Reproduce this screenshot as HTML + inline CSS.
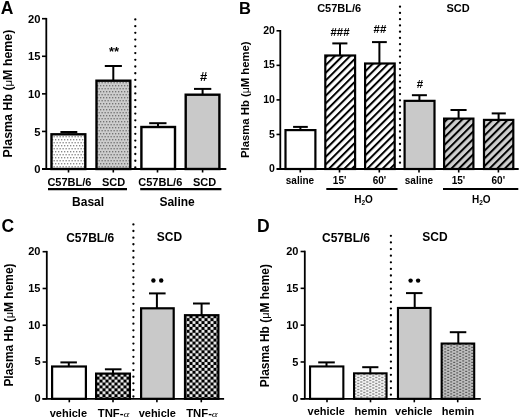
<!DOCTYPE html>
<html><head><meta charset="utf-8"><style>
html,body{margin:0;padding:0;background:#fff;}
svg{display:block;will-change:transform;}
text{font-family:"Liberation Sans", sans-serif;fill:#000;}
</style></head><body>
<svg width="520" height="419" viewBox="0 0 520 419">
<rect width="520" height="419" fill="#fff"/>

<defs>
 <pattern id="dotL" width="3" height="6" patternUnits="userSpaceOnUse">
  <rect width="3" height="6" fill="#fff"/>
  <rect x="1" y="1" width="1.3" height="1.4" fill="#8a8a8a"/>
  <rect x="2.5" y="4" width="1.3" height="1.4" fill="#8a8a8a"/>
  <rect x="-0.5" y="4" width="1.3" height="1.4" fill="#8a8a8a"/>
 </pattern>
 <pattern id="dotG" width="3" height="6" patternUnits="userSpaceOnUse">
  <rect width="3" height="6" fill="#cdcdcd"/>
  <rect x="1" y="1" width="1.3" height="1.4" fill="#747474"/>
  <rect x="2.5" y="4" width="1.3" height="1.4" fill="#747474"/>
  <rect x="-0.5" y="4" width="1.3" height="1.4" fill="#747474"/>
 </pattern>
 <pattern id="hatchW" width="5.4" height="5.4" patternUnits="userSpaceOnUse" patternTransform="rotate(45)">
  <rect width="5.4" height="5.4" fill="#fff"/>
  <rect x="0" y="0" width="2.0" height="5.4" fill="#000"/>
 </pattern>
 <pattern id="hatchG" width="5.4" height="5.4" patternUnits="userSpaceOnUse" patternTransform="rotate(45)">
  <rect width="5.4" height="5.4" fill="#cfcfcf"/>
  <rect x="0" y="0" width="2.0" height="5.4" fill="#000"/>
 </pattern>
 <pattern id="check" x="-2.5" y="-0.65" width="6" height="5.85" patternUnits="userSpaceOnUse">
  <rect width="6" height="5.85" fill="#000"/>
  <rect x="3.1" y="0.1" width="2.8" height="2.7" fill="#fff"/>
  <rect x="0.1" y="3.025" width="2.8" height="2.7" fill="#fff"/>
 </pattern>
 <pattern id="heminL" width="6" height="3" patternUnits="userSpaceOnUse">
  <rect width="6" height="3" fill="#f8f8f8"/>
  <rect x="0.2" y="0.3" width="2.2" height="1.4" fill="#8c8c8c"/>
  <rect x="3.2" y="1.8" width="2.2" height="1.4" fill="#8c8c8c"/>
  <rect x="3.2" y="-1.2" width="2.2" height="1.4" fill="#8c8c8c"/>
 </pattern>
 <pattern id="heminD" width="6" height="3" patternUnits="userSpaceOnUse">
  <rect width="6" height="3" fill="#bdbdbd"/>
  <rect x="0.2" y="0.3" width="2.0" height="1.2" fill="#5c5c5c"/>
  <rect x="3.2" y="1.8" width="2.0" height="1.2" fill="#5c5c5c"/>
  <rect x="3.2" y="-1.2" width="2.0" height="1.2" fill="#5c5c5c"/>
 </pattern>
</defs>
<text x="0.80" y="14.30" font-size="17.5" text-anchor="start" font-weight="bold" >A</text>
<text transform="translate(11.60,93.50) rotate(-90)" x="0" y="0" font-size="12.4" text-anchor="middle" font-weight="bold">Plasma Hb (<tspan font-weight="normal" font-size="11.41">μ</tspan>M heme)</text>
<line x1="46.30" y1="17.90" x2="46.30" y2="169.00" stroke="#000" stroke-width="1.8"/>
<line x1="42.00" y1="169.00" x2="46.30" y2="169.00" stroke="#000" stroke-width="1.6"/>
<text x="40.50" y="173.11" font-size="11.2" text-anchor="end" font-weight="bold" >0</text>
<line x1="42.00" y1="131.43" x2="46.30" y2="131.43" stroke="#000" stroke-width="1.6"/>
<text x="40.50" y="135.53" font-size="11.2" text-anchor="end" font-weight="bold" >5</text>
<line x1="42.00" y1="93.85" x2="46.30" y2="93.85" stroke="#000" stroke-width="1.6"/>
<text x="40.50" y="97.96" font-size="11.2" text-anchor="end" font-weight="bold" >10</text>
<line x1="42.00" y1="56.28" x2="46.30" y2="56.28" stroke="#000" stroke-width="1.6"/>
<text x="40.50" y="60.38" font-size="11.2" text-anchor="end" font-weight="bold" >15</text>
<line x1="42.00" y1="18.70" x2="46.30" y2="18.70" stroke="#000" stroke-width="1.6"/>
<text x="40.50" y="22.81" font-size="11.2" text-anchor="end" font-weight="bold" >20</text>
<rect x="51.50" y="134.30" width="33.80" height="34.70" fill="url(#dotL)" stroke="#000" stroke-width="2.4"/>
<rect x="96.50" y="80.70" width="33.80" height="88.30" fill="url(#dotG)" stroke="#000" stroke-width="2.4"/>
<rect x="141.40" y="127.00" width="33.60" height="42.00" fill="#fff" stroke="#000" stroke-width="2.4"/>
<rect x="185.70" y="94.70" width="33.70" height="74.30" fill="#c9c9c9" stroke="#000" stroke-width="2.4"/>
<line x1="68.60" y1="132.00" x2="68.60" y2="133.50" stroke="#000" stroke-width="2.0"/>
<line x1="60.40" y1="132.00" x2="77.30" y2="132.00" stroke="#000" stroke-width="2.0"/>
<line x1="113.30" y1="66.00" x2="113.30" y2="80.50" stroke="#000" stroke-width="2.0"/>
<line x1="104.80" y1="66.00" x2="121.90" y2="66.00" stroke="#000" stroke-width="2.0"/>
<line x1="158.00" y1="123.20" x2="158.00" y2="126.50" stroke="#000" stroke-width="2.0"/>
<line x1="149.20" y1="123.20" x2="166.50" y2="123.20" stroke="#000" stroke-width="2.0"/>
<line x1="202.60" y1="88.90" x2="202.60" y2="94.50" stroke="#000" stroke-width="2.0"/>
<line x1="194.00" y1="88.90" x2="211.30" y2="88.90" stroke="#000" stroke-width="2.0"/>
<circle cx="135.30" cy="19.40" r="1.15" fill="#000"/>
<circle cx="135.30" cy="26.13" r="1.15" fill="#000"/>
<circle cx="135.30" cy="32.86" r="1.15" fill="#000"/>
<circle cx="135.30" cy="39.59" r="1.15" fill="#000"/>
<circle cx="135.30" cy="46.32" r="1.15" fill="#000"/>
<circle cx="135.30" cy="53.05" r="1.15" fill="#000"/>
<circle cx="135.30" cy="59.78" r="1.15" fill="#000"/>
<circle cx="135.30" cy="66.51" r="1.15" fill="#000"/>
<circle cx="135.30" cy="73.24" r="1.15" fill="#000"/>
<circle cx="135.30" cy="79.97" r="1.15" fill="#000"/>
<circle cx="135.30" cy="86.70" r="1.15" fill="#000"/>
<circle cx="135.30" cy="93.43" r="1.15" fill="#000"/>
<circle cx="135.30" cy="100.16" r="1.15" fill="#000"/>
<circle cx="135.30" cy="106.89" r="1.15" fill="#000"/>
<circle cx="135.30" cy="113.62" r="1.15" fill="#000"/>
<circle cx="135.30" cy="120.35" r="1.15" fill="#000"/>
<circle cx="135.30" cy="127.08" r="1.15" fill="#000"/>
<circle cx="135.30" cy="133.81" r="1.15" fill="#000"/>
<circle cx="135.30" cy="140.54" r="1.15" fill="#000"/>
<circle cx="135.30" cy="147.27" r="1.15" fill="#000"/>
<circle cx="135.30" cy="154.00" r="1.15" fill="#000"/>
<circle cx="135.30" cy="160.73" r="1.15" fill="#000"/>
<circle cx="135.30" cy="167.46" r="1.15" fill="#000"/>
<line x1="42.00" y1="169.00" x2="226.30" y2="169.00" stroke="#000" stroke-width="2.0"/>
<line x1="68.50" y1="169.00" x2="68.50" y2="172.50" stroke="#000" stroke-width="1.6"/>
<line x1="113.30" y1="169.00" x2="113.30" y2="172.50" stroke="#000" stroke-width="1.6"/>
<line x1="157.50" y1="169.00" x2="157.50" y2="172.50" stroke="#000" stroke-width="1.6"/>
<line x1="202.60" y1="169.00" x2="202.60" y2="172.50" stroke="#000" stroke-width="1.6"/>
<text x="69.40" y="186.00" font-size="11" text-anchor="middle" font-weight="bold" >C57BL/6</text>
<text x="113.50" y="186.00" font-size="11" text-anchor="middle" font-weight="bold" >SCD</text>
<text x="160.30" y="186.00" font-size="11" text-anchor="middle" font-weight="bold" >C57BL/6</text>
<text x="204.60" y="186.00" font-size="11" text-anchor="middle" font-weight="bold" >SCD</text>
<line x1="48.00" y1="189.20" x2="127.00" y2="189.20" stroke="#000" stroke-width="2.2"/>
<line x1="140.20" y1="189.20" x2="221.40" y2="189.20" stroke="#000" stroke-width="2.2"/>
<text x="88.10" y="206.00" font-size="12" text-anchor="middle" font-weight="bold" >Basal</text>
<text x="177.10" y="206.00" font-size="12" text-anchor="middle" font-weight="bold" >Saline</text>
<text x="114.00" y="56.10" font-size="13" text-anchor="middle" font-weight="bold" >**</text>
<text x="203.50" y="80.90" font-size="13" text-anchor="middle" font-weight="bold" >#</text>
<text x="239.00" y="13.80" font-size="16.5" text-anchor="start" font-weight="bold" >B</text>
<text transform="translate(248.60,99.70) rotate(-90)" x="0" y="0" font-size="11.3" text-anchor="middle" font-weight="bold">Plasma Hb (<tspan font-weight="normal" font-size="10.40">μ</tspan>M heme)</text>
<line x1="280.30" y1="30.00" x2="280.30" y2="169.00" stroke="#000" stroke-width="1.8"/>
<line x1="276.50" y1="169.00" x2="280.30" y2="169.00" stroke="#000" stroke-width="1.6"/>
<text x="274.90" y="172.06" font-size="10.5" text-anchor="end" font-weight="bold" >0</text>
<line x1="276.50" y1="134.45" x2="280.30" y2="134.45" stroke="#000" stroke-width="1.6"/>
<text x="274.90" y="137.51" font-size="10.5" text-anchor="end" font-weight="bold" >5</text>
<line x1="276.50" y1="99.90" x2="280.30" y2="99.90" stroke="#000" stroke-width="1.6"/>
<text x="274.90" y="102.96" font-size="10.5" text-anchor="end" font-weight="bold" >10</text>
<line x1="276.50" y1="65.35" x2="280.30" y2="65.35" stroke="#000" stroke-width="1.6"/>
<text x="274.90" y="68.41" font-size="10.5" text-anchor="end" font-weight="bold" >15</text>
<line x1="276.50" y1="30.80" x2="280.30" y2="30.80" stroke="#000" stroke-width="1.6"/>
<text x="274.90" y="33.86" font-size="10.5" text-anchor="end" font-weight="bold" >20</text>
<rect x="285.50" y="130.10" width="29.90" height="38.90" fill="#fff" stroke="#000" stroke-width="2.2"/>
<rect x="325.30" y="55.50" width="29.80" height="113.50" fill="url(#hatchW)" stroke="#000" stroke-width="2.2"/>
<rect x="365.10" y="63.50" width="29.60" height="105.50" fill="url(#hatchW)" stroke="#000" stroke-width="2.2"/>
<rect x="404.60" y="100.85" width="29.90" height="68.15" fill="#c9c9c9" stroke="#000" stroke-width="2.2"/>
<rect x="444.10" y="118.60" width="29.30" height="50.40" fill="url(#hatchG)" stroke="#000" stroke-width="2.2"/>
<rect x="484.00" y="119.90" width="29.30" height="49.10" fill="url(#hatchG)" stroke="#000" stroke-width="2.2"/>
<line x1="300.40" y1="126.90" x2="300.40" y2="130.00" stroke="#000" stroke-width="2.0"/>
<line x1="293.10" y1="126.90" x2="307.80" y2="126.90" stroke="#000" stroke-width="2.0"/>
<line x1="340.00" y1="43.40" x2="340.00" y2="55.50" stroke="#000" stroke-width="2.0"/>
<line x1="332.30" y1="43.40" x2="347.40" y2="43.40" stroke="#000" stroke-width="2.0"/>
<line x1="379.40" y1="42.10" x2="379.40" y2="63.50" stroke="#000" stroke-width="2.0"/>
<line x1="372.00" y1="42.10" x2="386.80" y2="42.10" stroke="#000" stroke-width="2.0"/>
<line x1="419.40" y1="95.20" x2="419.40" y2="100.50" stroke="#000" stroke-width="2.0"/>
<line x1="411.90" y1="95.20" x2="426.90" y2="95.20" stroke="#000" stroke-width="2.0"/>
<line x1="458.60" y1="110.00" x2="458.60" y2="118.50" stroke="#000" stroke-width="2.0"/>
<line x1="450.50" y1="110.00" x2="466.60" y2="110.00" stroke="#000" stroke-width="2.0"/>
<line x1="498.60" y1="113.40" x2="498.60" y2="119.50" stroke="#000" stroke-width="2.0"/>
<line x1="491.70" y1="113.40" x2="505.80" y2="113.40" stroke="#000" stroke-width="2.0"/>
<circle cx="400.00" cy="6.70" r="1.15" fill="#000"/>
<circle cx="400.00" cy="12.94" r="1.15" fill="#000"/>
<circle cx="400.00" cy="19.18" r="1.15" fill="#000"/>
<circle cx="400.00" cy="25.42" r="1.15" fill="#000"/>
<circle cx="400.00" cy="31.66" r="1.15" fill="#000"/>
<circle cx="400.00" cy="37.90" r="1.15" fill="#000"/>
<circle cx="400.00" cy="44.14" r="1.15" fill="#000"/>
<circle cx="400.00" cy="50.38" r="1.15" fill="#000"/>
<circle cx="400.00" cy="56.62" r="1.15" fill="#000"/>
<circle cx="400.00" cy="62.86" r="1.15" fill="#000"/>
<circle cx="400.00" cy="69.10" r="1.15" fill="#000"/>
<circle cx="400.00" cy="75.34" r="1.15" fill="#000"/>
<circle cx="400.00" cy="81.58" r="1.15" fill="#000"/>
<circle cx="400.00" cy="87.82" r="1.15" fill="#000"/>
<circle cx="400.00" cy="94.06" r="1.15" fill="#000"/>
<circle cx="400.00" cy="100.30" r="1.15" fill="#000"/>
<circle cx="400.00" cy="106.54" r="1.15" fill="#000"/>
<circle cx="400.00" cy="112.78" r="1.15" fill="#000"/>
<circle cx="400.00" cy="119.02" r="1.15" fill="#000"/>
<circle cx="400.00" cy="125.26" r="1.15" fill="#000"/>
<circle cx="400.00" cy="131.50" r="1.15" fill="#000"/>
<circle cx="400.00" cy="137.74" r="1.15" fill="#000"/>
<circle cx="400.00" cy="143.98" r="1.15" fill="#000"/>
<circle cx="400.00" cy="150.22" r="1.15" fill="#000"/>
<circle cx="400.00" cy="156.46" r="1.15" fill="#000"/>
<circle cx="400.00" cy="162.70" r="1.15" fill="#000"/>
<line x1="276.80" y1="169.00" x2="518.70" y2="169.00" stroke="#000" stroke-width="2.0"/>
<line x1="300.30" y1="169.00" x2="300.30" y2="172.50" stroke="#000" stroke-width="1.6"/>
<line x1="339.50" y1="169.00" x2="339.50" y2="172.50" stroke="#000" stroke-width="1.6"/>
<line x1="379.30" y1="169.00" x2="379.30" y2="172.50" stroke="#000" stroke-width="1.6"/>
<line x1="419.00" y1="169.00" x2="419.00" y2="172.50" stroke="#000" stroke-width="1.6"/>
<line x1="458.70" y1="169.00" x2="458.70" y2="172.50" stroke="#000" stroke-width="1.6"/>
<line x1="498.40" y1="169.00" x2="498.40" y2="172.50" stroke="#000" stroke-width="1.6"/>
<text x="339.20" y="12.10" font-size="11" text-anchor="middle" font-weight="bold" >C57BL/6</text>
<text x="458.10" y="12.10" font-size="11" text-anchor="middle" font-weight="bold" >SCD</text>
<text x="300.00" y="183.70" font-size="10" text-anchor="middle" font-weight="bold" >saline</text>
<text x="339.60" y="183.70" font-size="10" text-anchor="middle" font-weight="bold" >15'</text>
<text x="379.40" y="183.70" font-size="10" text-anchor="middle" font-weight="bold" >60'</text>
<text x="419.00" y="183.70" font-size="10" text-anchor="middle" font-weight="bold" >saline</text>
<text x="458.50" y="183.70" font-size="10" text-anchor="middle" font-weight="bold" >15'</text>
<text x="498.30" y="183.70" font-size="10" text-anchor="middle" font-weight="bold" >60'</text>
<line x1="326.30" y1="189.00" x2="397.50" y2="189.00" stroke="#000" stroke-width="2.2"/>
<line x1="443.00" y1="189.00" x2="518.30" y2="189.00" stroke="#000" stroke-width="2.2"/>
<text x="363.50" y="202.5" font-size="10" text-anchor="middle" font-weight="bold">H<tspan font-size="6.5" dy="2.2">2</tspan><tspan dy="-2.2">O</tspan></text>
<text x="481.30" y="202.5" font-size="10" text-anchor="middle" font-weight="bold">H<tspan font-size="6.5" dy="2.2">2</tspan><tspan dy="-2.2">O</tspan></text>
<text x="340.00" y="36.10" font-size="11.5" text-anchor="middle" font-weight="bold" >###</text>
<text x="379.90" y="33.20" font-size="11.5" text-anchor="middle" font-weight="bold" >##</text>
<text x="420.00" y="87.50" font-size="11.5" text-anchor="middle" font-weight="bold" >#</text>
<text x="1.50" y="231.80" font-size="17.5" text-anchor="start" font-weight="bold" >C</text>
<text transform="translate(12.50,325.05) rotate(-90)" x="0" y="0" font-size="11.95" text-anchor="middle" font-weight="bold">Plasma Hb (<tspan font-weight="normal" font-size="10.99">μ</tspan>M heme)</text>
<line x1="46.80" y1="250.90" x2="46.80" y2="398.80" stroke="#000" stroke-width="1.8"/>
<line x1="42.60" y1="398.80" x2="46.80" y2="398.80" stroke="#000" stroke-width="1.6"/>
<text x="40.50" y="402.14" font-size="11.0" text-anchor="end" font-weight="bold" >0</text>
<line x1="42.60" y1="362.02" x2="46.80" y2="362.02" stroke="#000" stroke-width="1.6"/>
<text x="40.50" y="365.36" font-size="11.0" text-anchor="end" font-weight="bold" >5</text>
<line x1="42.60" y1="325.25" x2="46.80" y2="325.25" stroke="#000" stroke-width="1.6"/>
<text x="40.50" y="328.59" font-size="11.0" text-anchor="end" font-weight="bold" >10</text>
<line x1="42.60" y1="288.48" x2="46.80" y2="288.48" stroke="#000" stroke-width="1.6"/>
<text x="40.50" y="291.81" font-size="11.0" text-anchor="end" font-weight="bold" >15</text>
<line x1="42.60" y1="251.70" x2="46.80" y2="251.70" stroke="#000" stroke-width="1.6"/>
<text x="40.50" y="255.04" font-size="11.0" text-anchor="end" font-weight="bold" >20</text>
<rect x="52.10" y="366.50" width="33.80" height="32.30" fill="#fff" stroke="#000" stroke-width="2.2"/>
<rect x="96.10" y="373.60" width="33.80" height="25.20" fill="url(#check)" stroke="#000" stroke-width="2.2"/>
<rect x="141.10" y="308.30" width="32.60" height="90.50" fill="#c9c9c9" stroke="#000" stroke-width="2.2"/>
<rect x="185.00" y="315.20" width="33.40" height="83.60" fill="url(#check)" stroke="#000" stroke-width="2.2"/>
<line x1="68.80" y1="362.40" x2="68.80" y2="366.00" stroke="#000" stroke-width="2.0"/>
<line x1="60.40" y1="362.40" x2="76.90" y2="362.40" stroke="#000" stroke-width="2.0"/>
<line x1="113.00" y1="369.30" x2="113.00" y2="373.00" stroke="#000" stroke-width="2.0"/>
<line x1="104.90" y1="369.30" x2="121.50" y2="369.30" stroke="#000" stroke-width="2.0"/>
<line x1="156.90" y1="293.40" x2="156.90" y2="308.00" stroke="#000" stroke-width="2.0"/>
<line x1="149.00" y1="293.40" x2="165.60" y2="293.40" stroke="#000" stroke-width="2.0"/>
<line x1="201.60" y1="303.50" x2="201.60" y2="315.00" stroke="#000" stroke-width="2.0"/>
<line x1="193.00" y1="303.50" x2="209.80" y2="303.50" stroke="#000" stroke-width="2.0"/>
<circle cx="133.40" cy="224.40" r="1.15" fill="#000"/>
<circle cx="133.40" cy="231.02" r="1.15" fill="#000"/>
<circle cx="133.40" cy="237.64" r="1.15" fill="#000"/>
<circle cx="133.40" cy="244.26" r="1.15" fill="#000"/>
<circle cx="133.40" cy="250.88" r="1.15" fill="#000"/>
<circle cx="133.40" cy="257.50" r="1.15" fill="#000"/>
<circle cx="133.40" cy="264.12" r="1.15" fill="#000"/>
<circle cx="133.40" cy="270.74" r="1.15" fill="#000"/>
<circle cx="133.40" cy="277.36" r="1.15" fill="#000"/>
<circle cx="133.40" cy="283.98" r="1.15" fill="#000"/>
<circle cx="133.40" cy="290.60" r="1.15" fill="#000"/>
<circle cx="133.40" cy="297.22" r="1.15" fill="#000"/>
<circle cx="133.40" cy="303.84" r="1.15" fill="#000"/>
<circle cx="133.40" cy="310.46" r="1.15" fill="#000"/>
<circle cx="133.40" cy="317.08" r="1.15" fill="#000"/>
<circle cx="133.40" cy="323.70" r="1.15" fill="#000"/>
<circle cx="133.40" cy="330.32" r="1.15" fill="#000"/>
<circle cx="133.40" cy="336.94" r="1.15" fill="#000"/>
<circle cx="133.40" cy="343.56" r="1.15" fill="#000"/>
<circle cx="133.40" cy="350.18" r="1.15" fill="#000"/>
<circle cx="133.40" cy="356.80" r="1.15" fill="#000"/>
<circle cx="133.40" cy="363.42" r="1.15" fill="#000"/>
<circle cx="133.40" cy="370.04" r="1.15" fill="#000"/>
<circle cx="133.40" cy="376.66" r="1.15" fill="#000"/>
<circle cx="133.40" cy="383.28" r="1.15" fill="#000"/>
<circle cx="133.40" cy="389.90" r="1.15" fill="#000"/>
<circle cx="133.40" cy="396.52" r="1.15" fill="#000"/>
<line x1="42.40" y1="398.80" x2="224.10" y2="398.80" stroke="#000" stroke-width="1.8"/>
<line x1="69.30" y1="398.80" x2="69.30" y2="402.30" stroke="#000" stroke-width="1.6"/>
<line x1="113.00" y1="398.80" x2="113.00" y2="402.30" stroke="#000" stroke-width="1.6"/>
<line x1="156.90" y1="398.80" x2="156.90" y2="402.30" stroke="#000" stroke-width="1.6"/>
<line x1="201.30" y1="398.80" x2="201.30" y2="402.30" stroke="#000" stroke-width="1.6"/>
<text x="68.40" y="416.90" font-size="11" text-anchor="middle" font-weight="bold" >vehicle</text>
<text x="97.80" y="416.9" font-size="11.3" text-anchor="start" font-weight="bold">TNF-</text>
<text transform="translate(123.40,417.4) scale(1.4,1)" x="0" y="0" font-size="8" font-style="italic" style="font-family:'Liberation Serif',serif">α</text>
<text x="157.30" y="416.90" font-size="11" text-anchor="middle" font-weight="bold" >vehicle</text>
<text x="186.20" y="416.9" font-size="11.3" text-anchor="start" font-weight="bold">TNF-</text>
<text transform="translate(211.80,417.4) scale(1.4,1)" x="0" y="0" font-size="8" font-style="italic" style="font-family:'Liberation Serif',serif">α</text>
<text x="90.20" y="241.90" font-size="12" text-anchor="middle" font-weight="bold" >C57BL/6</text>
<text x="169.50" y="241.30" font-size="12" text-anchor="middle" font-weight="bold" >SCD</text>
<circle cx="153.4" cy="280.5" r="2.2" fill="#000"/>
<circle cx="161.2" cy="280.5" r="2.2" fill="#000"/>
<text x="257.00" y="231.80" font-size="17.5" text-anchor="start" font-weight="bold" >D</text>
<text transform="translate(269.00,325.60) rotate(-90)" x="0" y="0" font-size="11.95" text-anchor="middle" font-weight="bold">Plasma Hb (<tspan font-weight="normal" font-size="10.99">μ</tspan>M heme)</text>
<line x1="304.80" y1="250.70" x2="304.80" y2="398.80" stroke="#000" stroke-width="1.8"/>
<line x1="300.60" y1="398.80" x2="304.80" y2="398.80" stroke="#000" stroke-width="1.6"/>
<text x="298.40" y="402.34" font-size="11.0" text-anchor="end" font-weight="bold" >0</text>
<line x1="300.60" y1="361.98" x2="304.80" y2="361.98" stroke="#000" stroke-width="1.6"/>
<text x="298.40" y="365.51" font-size="11.0" text-anchor="end" font-weight="bold" >5</text>
<line x1="300.60" y1="325.15" x2="304.80" y2="325.15" stroke="#000" stroke-width="1.6"/>
<text x="298.40" y="328.69" font-size="11.0" text-anchor="end" font-weight="bold" >10</text>
<line x1="300.60" y1="288.33" x2="304.80" y2="288.33" stroke="#000" stroke-width="1.6"/>
<text x="298.40" y="291.86" font-size="11.0" text-anchor="end" font-weight="bold" >15</text>
<line x1="300.60" y1="251.50" x2="304.80" y2="251.50" stroke="#000" stroke-width="1.6"/>
<text x="298.40" y="255.04" font-size="11.0" text-anchor="end" font-weight="bold" >20</text>
<rect x="310.05" y="366.45" width="33.30" height="32.35" fill="#fff" stroke="#000" stroke-width="2.1"/>
<rect x="354.05" y="373.35" width="32.50" height="25.45" fill="url(#heminL)" stroke="#000" stroke-width="2.1"/>
<rect x="397.95" y="307.95" width="32.60" height="90.85" fill="#c9c9c9" stroke="#000" stroke-width="2.1"/>
<rect x="441.65" y="343.55" width="32.55" height="55.25" fill="url(#heminD)" stroke="#000" stroke-width="2.1"/>
<line x1="326.50" y1="362.40" x2="326.50" y2="366.00" stroke="#000" stroke-width="2.0"/>
<line x1="318.20" y1="362.40" x2="334.80" y2="362.40" stroke="#000" stroke-width="2.0"/>
<line x1="370.30" y1="367.20" x2="370.30" y2="373.00" stroke="#000" stroke-width="2.0"/>
<line x1="362.20" y1="367.20" x2="378.40" y2="367.20" stroke="#000" stroke-width="2.0"/>
<line x1="414.70" y1="293.10" x2="414.70" y2="308.00" stroke="#000" stroke-width="2.0"/>
<line x1="406.00" y1="293.10" x2="422.50" y2="293.10" stroke="#000" stroke-width="2.0"/>
<line x1="458.30" y1="332.20" x2="458.30" y2="343.00" stroke="#000" stroke-width="2.0"/>
<line x1="449.80" y1="332.20" x2="466.30" y2="332.20" stroke="#000" stroke-width="2.0"/>
<circle cx="390.90" cy="235.80" r="1.15" fill="#000"/>
<circle cx="390.90" cy="242.42" r="1.15" fill="#000"/>
<circle cx="390.90" cy="249.04" r="1.15" fill="#000"/>
<circle cx="390.90" cy="255.66" r="1.15" fill="#000"/>
<circle cx="390.90" cy="262.28" r="1.15" fill="#000"/>
<circle cx="390.90" cy="268.90" r="1.15" fill="#000"/>
<circle cx="390.90" cy="275.52" r="1.15" fill="#000"/>
<circle cx="390.90" cy="282.14" r="1.15" fill="#000"/>
<circle cx="390.90" cy="288.76" r="1.15" fill="#000"/>
<circle cx="390.90" cy="295.38" r="1.15" fill="#000"/>
<circle cx="390.90" cy="302.00" r="1.15" fill="#000"/>
<circle cx="390.90" cy="308.62" r="1.15" fill="#000"/>
<circle cx="390.90" cy="315.24" r="1.15" fill="#000"/>
<circle cx="390.90" cy="321.86" r="1.15" fill="#000"/>
<circle cx="390.90" cy="328.48" r="1.15" fill="#000"/>
<circle cx="390.90" cy="335.10" r="1.15" fill="#000"/>
<circle cx="390.90" cy="341.72" r="1.15" fill="#000"/>
<circle cx="390.90" cy="348.34" r="1.15" fill="#000"/>
<circle cx="390.90" cy="354.96" r="1.15" fill="#000"/>
<circle cx="390.90" cy="361.58" r="1.15" fill="#000"/>
<circle cx="390.90" cy="368.20" r="1.15" fill="#000"/>
<circle cx="390.90" cy="374.82" r="1.15" fill="#000"/>
<circle cx="390.90" cy="381.44" r="1.15" fill="#000"/>
<circle cx="390.90" cy="388.06" r="1.15" fill="#000"/>
<circle cx="390.90" cy="394.68" r="1.15" fill="#000"/>
<line x1="300.50" y1="398.80" x2="480.80" y2="398.80" stroke="#000" stroke-width="1.8"/>
<line x1="327.00" y1="398.80" x2="327.00" y2="402.30" stroke="#000" stroke-width="1.6"/>
<line x1="370.50" y1="398.80" x2="370.50" y2="402.30" stroke="#000" stroke-width="1.6"/>
<line x1="414.30" y1="398.80" x2="414.30" y2="402.30" stroke="#000" stroke-width="1.6"/>
<line x1="457.70" y1="398.80" x2="457.70" y2="402.30" stroke="#000" stroke-width="1.6"/>
<text x="326.20" y="415.20" font-size="11" text-anchor="middle" font-weight="bold" >vehicle</text>
<text x="370.75" y="415.20" font-size="11" text-anchor="middle" font-weight="bold" >hemin</text>
<text x="413.75" y="415.20" font-size="11" text-anchor="middle" font-weight="bold" >vehicle</text>
<text x="458.00" y="415.20" font-size="11" text-anchor="middle" font-weight="bold" >hemin</text>
<text x="346.00" y="241.90" font-size="12" text-anchor="middle" font-weight="bold" >C57BL/6</text>
<text x="435.00" y="241.30" font-size="12" text-anchor="middle" font-weight="bold" >SCD</text>
<circle cx="410.6" cy="280.6" r="2.2" fill="#000"/>
<circle cx="418.1" cy="280.6" r="2.2" fill="#000"/>
</svg>
</body></html>
